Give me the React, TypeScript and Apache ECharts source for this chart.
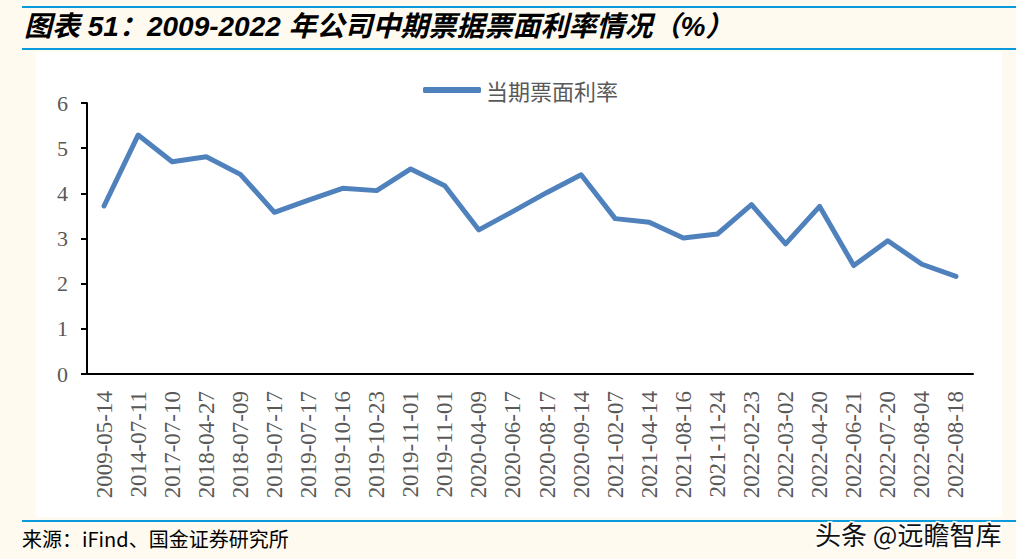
import React, { useEffect, useRef } from "react";
import * as echarts from "echarts";

const categories = [
  "2009-05-14", "2014-07-11", "2017-07-10", "2018-04-27", "2018-07-09",
  "2019-07-17", "2019-07-17", "2019-10-16", "2019-10-23", "2019-11-01",
  "2019-11-01", "2020-04-09", "2020-06-17", "2020-08-17", "2020-09-14",
  "2021-02-07", "2021-04-14", "2021-08-16", "2021-11-24", "2022-02-23",
  "2022-03-02", "2022-04-20", "2022-06-21", "2022-07-20", "2022-08-04",
  "2022-08-18",
];

const couponRate = [
  3.72, 5.29, 4.7, 4.81, 4.42, 3.58, 3.85, 4.11, 4.06, 4.54, 4.17, 3.19,
  3.6, 4.02, 4.41, 3.44, 3.36, 3.01, 3.1, 3.75, 2.88, 3.71, 2.4, 2.95, 2.43,
  2.16,
];

const seriesName = "当期票面利率";
const yTicks = { min: 0, max: 6, interval: 1 };
const titleText = "图表 51：2009-2022 年公司中期票据票面利率情况（%）";
const sourceText = "来源：iFind、国金证券研究所";
const watermarkText = "头条 @远瞻智库";

export default function App() {
  const ref = useRef<HTMLDivElement>(null);
  useEffect(() => {
    if (!ref.current) return;
    const chart = echarts.init(ref.current, null, { renderer: "svg" });
    const blue = "#0A9BDC";
    chart.setOption({
      animation: false,
      backgroundColor: "#FEFAF0",
      graphic: [
        { type: "rect", shape: { x: 36, y: 52, width: 966, height: 465 }, style: { fill: "#FFFFFF" }, z: -10 },
        { type: "rect", shape: { x: 22, y: 6, width: 994, height: 2 }, style: { fill: blue } },
        { type: "rect", shape: { x: 22, y: 48, width: 994, height: 2 }, style: { fill: blue } },
        { type: "rect", shape: { x: 22, y: 520, width: 994, height: 2 }, style: { fill: blue } },
        {
          type: "text", x: 24, y: 26,
          style: {
            text: titleText, fill: "#000",
            font: 'italic bold 28px "Liberation Sans", "Noto Sans CJK SC", sans-serif',
            verticalAlign: "middle", align: "left",
          },
        },
        {
          type: "text", x: 22, y: 538,
          style: {
            text: sourceText, fill: "#000",
            font: '20px "Noto Sans CJK SC", sans-serif',
            verticalAlign: "middle", align: "left",
          },
        },
        {
          type: "text", x: 815, y: 533, z: 100,
          style: {
            text: watermarkText, fill: "#111",
            stroke: "#FFFFFF", lineWidth: 3,
            font: '26px "Noto Sans CJK SC", sans-serif',
            verticalAlign: "middle", align: "left",
          },
        },
      ],
      legend: {
        show: true,
        left: 418,
        top: 74,
        icon: "roundRect",
        itemWidth: 58,
        itemHeight: 6,
        itemGap: 10,
        textStyle: {
          fontSize: 22,
          color: "#595959",
          fontFamily: '"Noto Sans CJK SC", sans-serif',
          padding: [0, 0, 0, 0],
        },
        data: [seriesName],
      },
      grid: { left: 87, right: 43, top: 103, bottom: 185, containLabel: false },
      xAxis: {
        type: "category",
        data: categories,
        boundaryGap: true,
        axisLine: { show: true, lineStyle: { color: "#000", width: 2 } },
        axisTick: { show: false },
        axisLabel: {
          interval: 0,
          rotate: 90,
          margin: 17,
          fontSize: 23,
          color: "#595959",
          fontFamily: '"Liberation Serif", serif',
        },
        splitLine: { show: false },
      },
      yAxis: {
        type: "value",
        min: yTicks.min,
        max: yTicks.max,
        interval: yTicks.interval,
        axisLine: { show: true, lineStyle: { color: "#000", width: 2 } },
        axisTick: { show: true, inside: false, length: 6, lineStyle: { color: "#000", width: 2 } },
        axisLabel: {
          margin: 19,
          fontSize: 22,
          color: "#595959",
          fontFamily: '"Liberation Serif", serif',
        },
        splitLine: { show: false },
      },
      series: [
        {
          name: seriesName,
          type: "line",
          data: couponRate,
          symbol: "none",
          lineStyle: { color: "#4F81BD", width: 5, cap: "round", join: "round" },
          itemStyle: { color: "#4F81BD" },
        },
      ],
    });
    return () => chart.dispose();
  }, []);
  return (
    <div
      ref={ref}
      style={{ position: "absolute", left: 0, top: 0, width: 1016, height: 559 }}
    />
  );
}
